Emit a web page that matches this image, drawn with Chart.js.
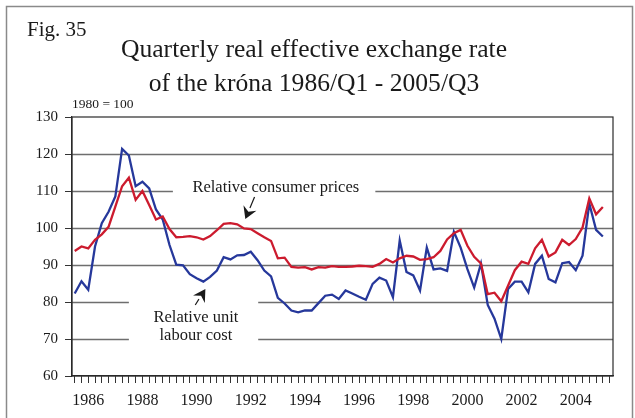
<!DOCTYPE html>
<html>
<head>
<meta charset="utf-8">
<script src="https://cdn.jsdelivr.net/npm/chart.js@4"></script>
<style>
  html, body { margin: 0; padding: 0; background: #fff; }
  #chart { display: block; }
</style>
</head>
<body>
<canvas id="chart" width="635" height="418"></canvas>
<script>
// Quarterly index, 1980 = 100, from 1986/Q1 to 2005/Q3
const yearLabels = ["1986", "1988", "1990", "1992", "1994", "1996", "1998", "2000", "2002", "2004"];

const consumerPrices = [
  93.8, 95.0, 94.5, 96.8, 98.3, 100.3, 105.8, 111.3,
  113.6, 107.6, 110.0, 106.2, 102.3, 103.1, 99.7, 97.5,
  97.6, 97.8, 97.5, 96.9, 97.8, 99.4, 101.1, 101.3,
  101.0, 99.9, 99.7, 98.6, 97.5, 96.5, 91.8, 92.0,
  89.5, 89.3, 89.4, 88.8, 89.4, 89.3, 89.7, 89.5,
  89.5, 89.6, 89.8, 89.7, 89.5, 90.3, 91.6, 90.7,
  91.8, 92.5, 92.3, 91.4, 91.6, 92.1, 93.8, 96.9,
  98.6, 99.5, 95.2, 92.2, 90.4, 82.1, 82.5, 80.2,
  84.4, 88.6, 90.9, 90.3, 94.5, 96.8, 92.3, 93.4,
  96.8, 95.4, 97.0, 100.1, 108.0, 103.7, 105.7
];

const unitLabourCost = [
  82.3, 85.6, 83.3, 95.0, 101.3, 104.4, 108.5, 121.4,
  119.6, 111.3, 112.5, 110.7, 105.0, 102.3, 95.4, 90.1,
  89.9, 87.5, 86.4, 85.5, 86.8, 88.5, 92.1, 91.5,
  92.6, 92.7, 93.6, 91.3, 88.5, 86.9, 81.1, 79.6,
  77.7, 77.2, 77.7, 77.7, 79.7, 81.7, 82.0, 80.8,
  83.1, 82.3, 81.4, 80.6, 84.9, 86.6, 85.8, 81.3,
  96.6, 88.1, 87.2, 83.1, 94.7, 88.8, 89.1, 88.4,
  99.0, 94.7, 88.9, 83.9, 90.4, 79.2, 75.5, 70.0,
  83.5, 85.5, 85.5, 82.6, 90.3, 92.5, 86.2, 85.3,
  90.5, 90.8, 88.6, 92.5, 106.6, 99.5, 97.7
];

const SERIF = "'Liberation Serif', 'Times New Roman', serif";

const toPoints = (values) => values.map((v, i) => ({ x: i, y: v }));

// horizontal grid lines, some broken where the labels sit
const gridGaps = {
  110: [[14.5, 44.4]],
  80: [[8.0, 27.1]],
  70: [[8.0, 27.1]],
};

const gridPlugin = {
  id: "gridWithGaps",
  beforeDatasetsDraw(chart) {
    const { ctx, chartArea, scales } = chart;
    const xs = scales.x, ys = scales.y;
    ctx.save();
    ctx.strokeStyle = "#6e6e6e";
    ctx.lineWidth = 1.5;
    for (let v = 70; v <= 120; v += 10) {
      const y = Math.round(ys.getPixelForValue(v)) + 0.5;
      let start = chartArea.left;
      const gaps = gridGaps[v] || [];
      ctx.beginPath();
      gaps.forEach(([a, b]) => {
        ctx.moveTo(start, y);
        ctx.lineTo(xs.getPixelForValue(a), y);
        start = xs.getPixelForValue(b);
      });
      ctx.moveTo(start, y);
      ctx.lineTo(chartArea.right, y);
      ctx.stroke();
    }
    // plot frame
    ctx.strokeStyle = "#2a2a2a";
    ctx.lineWidth = 1.2;
    ctx.strokeRect(chartArea.left, chartArea.top, chartArea.right - chartArea.left, chartArea.bottom - chartArea.top);
    ctx.restore();
  },
};

function arrow(ctx, x0, y0, x1, y1) {
  const ang = Math.atan2(y1 - y0, x1 - x0);
  const len = 12, half = 7;
  const bx = x1 - Math.cos(ang) * len, by = y1 - Math.sin(ang) * len;
  ctx.beginPath();
  ctx.moveTo(x0, y0);
  ctx.lineTo(bx, by);
  ctx.stroke();
  ctx.beginPath();
  ctx.moveTo(x1, y1);
  ctx.lineTo(bx + Math.sin(ang) * half, by - Math.cos(ang) * half);
  ctx.lineTo(x1 - Math.cos(ang) * (len - 4), y1 - Math.sin(ang) * (len - 4));
  ctx.lineTo(bx - Math.sin(ang) * half, by + Math.cos(ang) * half);
  ctx.closePath();
  ctx.fill();
}

const textPlugin = {
  id: "figureText",
  afterDraw(chart) {
    const { ctx, scales } = chart;
    const xs = scales.x, ys = scales.y;
    const px = (i) => xs.getPixelForValue(i);
    const py = (v) => ys.getPixelForValue(v);
    ctx.save();

    // outer frame
    ctx.strokeStyle = "#8a8a8a";
    ctx.lineWidth = 1.5;
    ctx.strokeRect(6.5, 6.5, 626, 430);

    ctx.fillStyle = "#1a1a1a";
    ctx.textBaseline = "alphabetic";

    ctx.textAlign = "left";
    ctx.font = "21px " + SERIF;
    ctx.fillText("Fig. 35", 27, 36);

    ctx.textAlign = "center";
    ctx.font = "25.6px " + SERIF;
    ctx.fillText("Quarterly real effective exchange rate", 314, 57);
    ctx.fillText("of the króna 1986/Q1 - 2005/Q3", 314, 91);

    ctx.textAlign = "left";
    ctx.font = "13.5px " + SERIF;
    ctx.fillText("1980 = 100", 72, 108);

    // series labels
    ctx.font = "16.5px " + SERIF;
    ctx.textAlign = "center";
    ctx.fillText("Relative consumer prices", px(29.7), py(110) + 0.5);
    ctx.fillText("Relative unit", px(17.9), py(74.6));
    ctx.fillText("labour cost", px(17.9), py(69.7));

    ctx.strokeStyle = "#1a1a1a";
    ctx.lineWidth = 1.2;
    arrow(ctx, px(26.56), py(108.4), px(25.2), py(102.4));
    arrow(ctx, px(17.8), py(79.2), px(19.3), py(83.5));

    ctx.restore();
  },
};

new Chart(document.getElementById("chart"), {
  type: "line",
  data: {
    datasets: [
      {
        label: "Relative consumer prices",
        data: toPoints(consumerPrices),
        borderColor: "#cc1b2e",
        borderWidth: 2.3,
        pointRadius: 0,
        tension: 0,
      },
      {
        label: "Relative unit labour cost",
        data: toPoints(unitLabourCost),
        borderColor: "#26389b",
        borderWidth: 2.3,
        pointRadius: 0,
        tension: 0,
      },
    ],
  },
  options: {
    responsive: false,
    animation: false,
    layout: { padding: { left: 0, top: 117, right: 22, bottom: 0 } },
    plugins: {
      legend: { display: false },
      title: { display: false },
      tooltip: { enabled: false },
    },
    scales: {
      x: {
        type: "linear",
        min: -0.4,
        max: 79.5,
        afterBuildTicks: (scale) => {
          scale.ticks = Array.from({ length: 80 }, (_, i) => ({ value: i }));
        },
        afterFit: (scale) => { scale.height = 42; },
        ticks: {
          autoSkip: false,
          maxRotation: 0,
          padding: 8,
          color: "#1a1a1a",
          font: { family: SERIF, size: 16 },
          callback: (v) => (v % 8 === 2 ? yearLabels[(v - 2) / 8] : ""),
        },
        grid: { drawOnChartArea: false, drawTicks: true, tickLength: 7, color: "#333" },
        border: { display: true, color: "#2a2a2a", width: 1.2 },
      },
      y: {
        min: 60,
        max: 130,
        afterFit: (scale) => { scale.width = 72; },
        ticks: {
          stepSize: 10,
          padding: 7,
          color: "#1a1a1a",
          font: { family: SERIF, size: 15 },
        },
        grid: { drawOnChartArea: false, drawTicks: true, tickLength: 7, color: "#333" },
        border: { display: true, color: "#2a2a2a", width: 1.2 },
      },
    },
  },
  plugins: [gridPlugin, textPlugin],
});
</script>
</body>
</html>
